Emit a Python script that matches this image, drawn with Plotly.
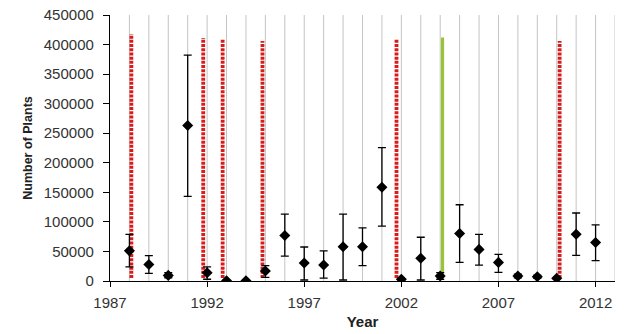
import plotly.graph_objects as go

years = list(range(1988, 2013))
plants = [51000, 28000, 9500, 263000, 14000, 500, 500, 17000, 77000, 30500,
          27000, 58000, 58000, 158500, 3000, 38500, 8500, 80500, 53500, 31500,
          8500, 7300, 4500, 79000, 65000]
err_hi = [79000, 43000, 14000, 382000, 24000, 1500, 1500, 26000, 113000, 57500,
          51000, 113000, 90000, 225500, 4000, 74000, 14000, 129000, 79000, 45000,
          11500, 10000, 5500, 115000, 95000]
err_lo = [24000, 13000, 5500, 143000, 3000, 0, 0, 6000, 42000, 1700,
          5000, 1700, 26000, 93000, 2000, 1700, 3000, 31500, 27000, 14700,
          5500, 4600, 3500, 43500, 34500]

red_years = [1988.1, 1991.8, 1992.8, 1994.85, 2001.75, 2010.15]
red_tops = [418000, 411000, 409000, 406000, 410000, 406000]
green_years = [2004.12]
green_tops = [412000]
line_bottom = 5000

x_ticks = [1987, 1992, 1997, 2002, 2007, 2012]
y_ticks = list(range(0, 450001, 50000))
grid_years = list(range(1988, 2014))

fig = go.Figure()

for gx in grid_years:
    fig.add_trace(go.Scatter(x=[gx, gx], y=[0, 450000], mode="lines",
                             line=dict(color="#c4c4c4", width=1),
                             hoverinfo="skip", showlegend=False))

for rx, rt in zip(red_years, red_tops):
    fig.add_trace(go.Scatter(x=[rx, rx], y=[line_bottom, rt], mode="lines",
                             line=dict(color="#d81c1c", width=3.8, dash="3px,1.2px"),
                             showlegend=False))
for gx, gt in zip(green_years, green_tops):
    fig.add_trace(go.Scatter(x=[gx, gx], y=[line_bottom, gt], mode="lines",
                             line=dict(color="#99c43a", width=3.2),
                             showlegend=False))

fig.add_trace(go.Scatter(
    x=years, y=plants, mode="markers",
    marker=dict(symbol="diamond", size=8.5, color="black"),
    error_y=dict(type="data", symmetric=False,
                 array=[h - p for h, p in zip(err_hi, plants)],
                 arrayminus=[p - l for p, l in zip(plants, err_lo)],
                 color="black", thickness=1.3, width=4),
    showlegend=False))

fig.update_layout(
    width=638, height=334,
    margin=dict(l=110, r=23, t=15, b=53),
    paper_bgcolor="white", plot_bgcolor="white",
    font=dict(family="Liberation Sans, Arial", color="#333333", size=15),
    xaxis=dict(range=[1987, 2013], tickvals=x_ticks, showgrid=False,
               showline=True, linecolor="black", linewidth=1.3,
               ticks="outside", ticklen=5, tickcolor="black",
               ticklabelstandoff=3, automargin=False,
               zeroline=False,
               title=dict(text="<b>Year</b>", standoff=6,
                          font=dict(size=15, color="#222222"))),
    yaxis=dict(range=[0, 450000], tickvals=y_ticks, showgrid=False,
               showline=True, linecolor="black", linewidth=1.3,
               ticks="outside", ticklen=6, tickcolor="black",
               ticklabelstandoff=6, automargin=False,
               zeroline=False, tickformat="d",
               title=dict(text="<b>Number of Plants</b>", standoff=8,
                          font=dict(size=12.5, color="#222222"))),
)

fig.write_html("out.html")
